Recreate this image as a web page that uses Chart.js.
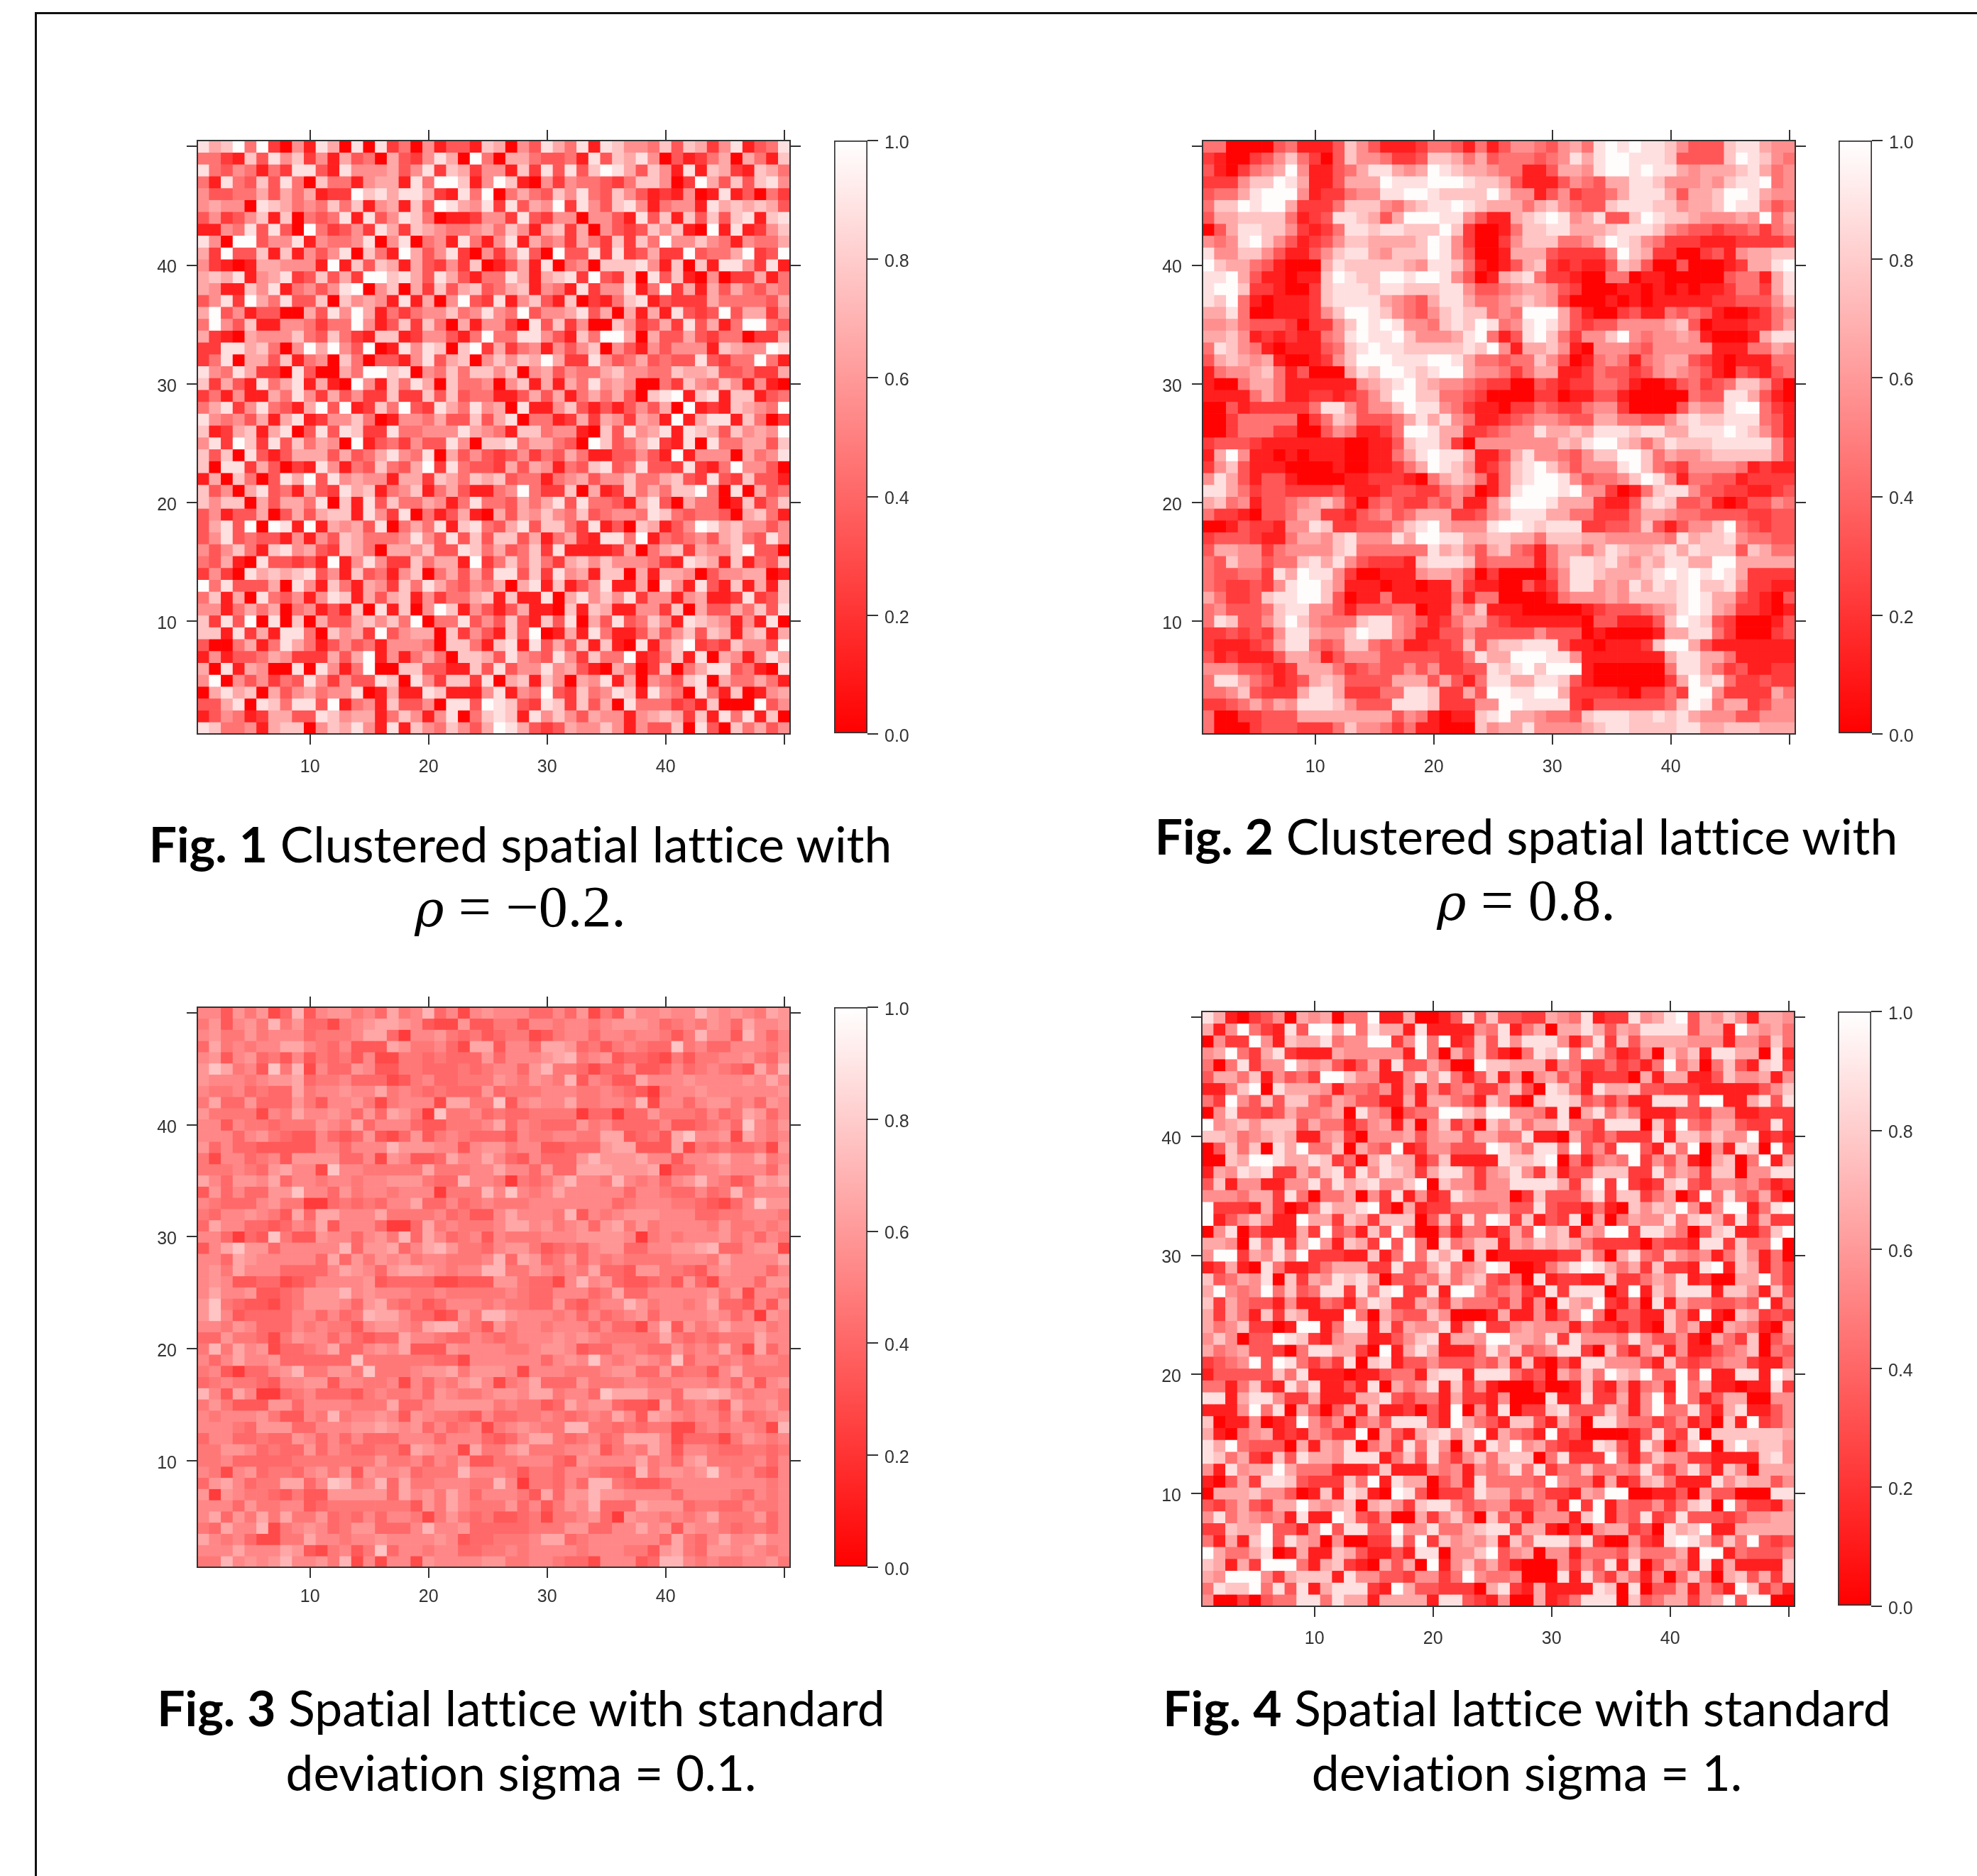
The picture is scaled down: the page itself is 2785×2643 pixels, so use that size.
<!DOCTYPE html>
<html>
<head>
<meta charset="utf-8">
<title>Spatial lattices</title>
<script src="https://cdn.jsdelivr.net/npm/chart.js@4"></script>
<style>
body { margin: 0; background: #fff; width: 2785px; height: 2643px; overflow: hidden; position: relative; }
canvas { position: absolute; }
#frame { position: absolute; left: 49px; top: 17px; right: -10px; bottom: -10px; border-left: 3px solid #111; border-top: 3px solid #111; }
.cap { position: absolute; width: 1300px; text-align: center; color: #000; font-family: Lato, "Noto Sans", sans-serif; font-size: 69.5px; line-height: 80px; white-space: nowrap; font-variant-ligatures: none; }
.math { font-family: "Liberation Serif", "DejaVu Serif", serif; font-size: 82px; }
.math i { font-family: "DejaVu Serif", serif; font-size: 70px; }
</style>
</head>
<body>
<div id="frame"></div>
<canvas id="fig1"></canvas><canvas id="bar1"></canvas>
<canvas id="fig2"></canvas><canvas id="bar2"></canvas>
<canvas id="fig3"></canvas><canvas id="bar3"></canvas>
<canvas id="fig4"></canvas><canvas id="bar4"></canvas>

<div class="cap" style="left:83px;top:1148px"><b>Fig. 1</b> Clustered spatial lattice with</div>
<div class="cap math" style="left:83px;top:1238px"><i>ρ</i> = −0.2.</div>
<div class="cap" style="left:1500px;top:1137px"><b>Fig. 2</b> Clustered spatial lattice with</div>
<div class="cap math" style="left:1500px;top:1229px"><i>ρ</i> = 0.8.</div>
<div class="cap" style="left:84px;top:2365px"><b>Fig. 3</b> Spatial lattice with standard</div>
<div class="cap" style="left:84px;top:2456px">deviation sigma = 0.1.</div>
<div class="cap" style="left:1501px;top:2365px"><b>Fig. 4</b> Spatial lattice with standard</div>
<div class="cap" style="left:1501px;top:2456px">deviation sigma = 1.</div>

<script>
// each string is one row of the lattice, top row (y=50) first
// one digit per cell, looked up in the shade arrays below
const fig1Rows = [
"86794920518608082405133176053864818755473762581348",
"44217385725163406325860940664334183768503124606417",
"84354142883185556358276255172838379863751817621764",
"41843738407441566184997159710525443247750296373785",
"53344636461229786886218490464375843753121501813042",
"56550876454747156173986582836592853785145518676763",
"35235717043481835874011255283255055318371737378178",
"11548383094235286276544564751672605323757109181257",
"85099355815445805804518415816452642727495575415446",
"62933717153580741963582052583093382823622934469239",
"52101665551917376163252701361804507778517071885281",
"67681568237362997863863144861678293270837105022614",
"65117581453589057062736734671541825581492616364354",
"35829648337075651816059328157317021478132226444436",
"69351330063859614245574585493556836061618323936625",
"49537115542449513727406155208372500752362836149943",
"62106555743742177125531494488531749960633632440226",
"22886740596953901858707926245153570531535551765598",
"24806637145074033158367057576962285346343383244941",
"85486220830064997805474775705635446755447667334226",
"72631846816109517486074450571616485650042754751510",
"24151164852635227227373441136361464630789178177134",
"46825843169391274932864856081157313135360912176549",
"85453616812557401554633736804412626526519168817402",
"71267168038387228445558654177455107385681876375659",
"58297283746509134253385077846643097346821808446637",
"73708313666363468548063532352436411335319155506458",
"70882630218514374369284332636514378348332821495530",
"16074038693856551662764767344145635574467328327331",
"73506834163286714571463114594227061274647794080634",
"75770636648071837446514844364683844316830644017247",
"35133603636771852804136106365754734554874344306741",
"36839098191656380464817843683774281307613598675535",
"35834331515376444585383737736146218849143453674385",
"53574178563276406657338746347281111260467265579330",
"43610833231915852274661924747426757555421876171437",
"25208676783517341570463638837285617706166503556601",
"94833360851741652748643546068171358116085183171617",
"47160843515871636715244671711806857582551561128237",
"55146460451317081705971531361107176115527063364738",
"72839080706336757490448353731738063834751876515180",
"77182618840756293566072531739016184113635737616716",
"30046148641353415554077417818363717108157923275539",
"15133465222636915146407763854385274491247180651586",
"60816500808514900773311738355856310640270468834108",
"59053524385253387085277280671750658160543780644641",
"06867063564558016118711158154932745871854084170156",
"33680874883914517335088398732872736084442317000935",
"13541266338756614751580478718575365515676271848170",
"87445167705768518175475369863236557515337083074635"
]

const fig2Rows = [
"44000034111375311124431413554356489898875333788655",
"21002357420375542237764634443458689988873333798754",
"31024569511346886569876654411366589989886566678645",
"22257798611366698889998776311135436688755565788945",
"34468999512245588998777797551352334688863667998655",
"47798996222477754678898766646754337888775667988534",
"36677774123887636999885311678985683379877655565946",
"03688775212488788777972001477886667888754332334245",
"54589753123577666679852002577744579875422211122223",
"85577531135788657779853001666322225976220023156677",
"97664310006877777658874101367212113763003000126689",
"88963110117987799899853016784221004401100000344168",
"89972210027888788777885334566532000110101011244268",
"87941011127888865436886445676520001010111112233357",
"66840011125799875435787745499963100231143431001245",
"55643332022579898554787984589863233555567301112246",
"66751212114589889755568941389742557954556510001688",
"48754101113478988777778795166751055543555551114465",
"36765610012579998889986443447530145414566321011144",
"14556741300068799878996554246611243323565431032134",
"10046641111115678976554322003212244310013423477520",
"11114641122123579977443200002201133100000433886310",
"00312222248853557988542110224322455200003655899421",
"00244444024763334686854112345543366443357877888431",
"00244422003541124998662234558667688878866888987531",
"23332111111100113788620555555576899764687778888852",
"16951101011100114689886113685543577997465567777752",
"25731110000100112469875124789753555897432555541211",
"58631331000011222104676414789985344579851443312222",
"88642332222311123322454014899989552014788533221123",
"67451334567520343224351157999866621137873341013354",
"42210334662213453466622356888664422246654433332233",
"00132215587223335789655589987888223347313557943233",
"23332114665785558699886677664777665555548677854433",
"36655245555784444448675367431466468766786877737644",
"43755344786853222178887344441468878657688669966666",
"43344286988520011156653020000358876667898989862222",
"43223258997511101101152110031258856586878977852211",
"64223788997301141111141440000145556577778986632103",
"45333478855313334401154711100000123334568986522101",
"48733579754447885431246632111111033111379873200013",
"22323258865579885411335333335333010000166884200023",
"21112368843477434112237367788831101112799631111111",
"31211136651355533333224866999885111111168866411111",
"55533212666423433535223387897999100000048864231122",
"48864312367633336663631488668873100000026978422322",
"44573222688622244887226399889962222102242995222264",
"22346465888753338887222559988882133333347984662355",
"40022333666666663541011789665443788877878655533555",
"40002333222475542411000756685555678877778866777666"
]

const fig3Rows = [
"55264613825664537458351565553353614275565586565476",
"46256484633145677652116224425545545666534546537556",
"56446455534445773055643423441245535545542485528535",
"37454557754352227644531772553776342454339453355545",
"56256342524342511443433363555678456233214244556436",
"69745294815336522443334345536844313352235345432748",
"65554566734453331245334446546548254227555655556575",
"54453433745565574543433363444555445432045565555556",
"47336333642556414555177449256557445548155356645365",
"64444154755653637640944534334444033033644435347635",
"55254434446547355532244457354333645333352234539546",
"55535643225323621362454333254455447723427955617545",
"63533222225535558666552566455223336772227143433416",
"41553452666633516522375575325333686667552556755745",
"44454367551955444447444557553633777666703355655536",
"75366573554554556664338554043468554854535685423767",
"26353366955364554555044485954575555535543353484555",
"54333564400343435573353454445555555345554432135966",
"43556542737755574444534225755548254566655533445554",
"37553323547255530037454445775645636746455554644545",
"55303294226553564837534525444555666650454555645354",
"25796635555583667357864435664234356633556678335661",
"55376555553736465645544458376346354544445554755557",
"56475553333576536776545588446545473326644325655535",
"56522331235555623333112226643315856322342631555366",
"57556223466685655544544444543355534733555556461554",
"69432213466653674342355545443363245586455457332526",
"69523333553534877533126488655545353456355556535065",
"55465333545442566547885426455455535331582645755645",
"33644314655353233755433543455565654444474343444755",
"48475613345733565722265555445665233554336454741735",
"53575563333339444444331555555356595456549355454554",
"45203356844664944456674666515554445663363442574444",
"34544325566255445153546751457333644455445554536256",
"85275003453332454453654456657745539777553778754554",
"46422266355554447335666664544237566322173454275564",
"54555642254845565265443253344543454752765455363456",
"55543666335556676563534514565448844343441145455418",
"35533433653535333555355532357743453477751333146545",
"44665343363543344276551744674445562454752554334434",
"44533333444444464453546224455532655557453674444535",
"54156344356462655634448555424435543328466569545325",
"36753447735984583744555448504435388432235555555545",
"60654432422666663756475355542736686655553555543545",
"55536445523444444426475444635246583337666344335445",
"57364747446343535541464342234144563065545457444635",
"43755814565346633358556333334446633557562655434435",
"75453114475545565555652334445773455555537435755755",
"55575557621452493554553344545555455544267436656545",
"44856568556481515516555566445543315552388545445564"
]

const fig4Rows = [
"86102350656044911600138373322654812285689365751665",
"61594218399694866181111548146066863658888366196564",
"05229517668455992594912738588851482736666555155374",
"56942682111655555194063731048794963125075718866081",
"40482559656313618336400977666154224231494604731782",
"36647153429975511585841371505635122206166113755615",
"11479086665144351515245225730874186673322211111357",
"42953737743653311616643175107887342411888399116838",
"05833236445608540344997699554180684641113325511222",
"95675777364413561605724075746684428880729436632282",
"77645676115620555635663664481106324222817757559121",
"03747086944706439125533398648849352993184905187092",
"00769986687240686613711118778904145492536106704916",
"16587822647828587626885256852713377722846527705588",
"37155115584867855790755255888862792921278325545312",
"55546628404460528151286555027333682772460294843620",
"92221620148668920612244445338322141075769515991489",
"91357511966276277703728498271328060465584786282622",
"05803111629341739400414412639671659928864037811379",
"66508482695176293940845771657676422220322188274490",
"59926585922211714948680701111122740684375451475140",
"12610841124666228336845698001468986462722189176142",
"73465807265878603354746732408122117224658120066942",
"69545947348828489228199534521828880291758881775173",
"72643315114315872265264442515086592140816443343915",
"62641727611194064337500016115136940331174191076232",
"64572201991488172655815922565551422131074610654106",
"57503398721566113578166599665828555485335106427035",
"64563320488662091686111485734588207315715113457043",
"23459398424280781335333436171031885553173234552114",
"13333374811101134417881888423064749769449391188197",
"44147218581131806458172510002001721514519461101182",
"88168852261116683244162215000811822615929413660055",
"11159480630361711203190518022783337515944831681135",
"70115012953504538883196431773164088544235130719235",
"61045612154229063167857916431923000013832807777776",
"86943330616580462848507186956321187318503790796775",
"87462173866588814738425747770482229414755221111785",
"51856696444111271115451545848244744548425841750666",
"10362887322274918660351844443954416126741118576635",
"06667553017187109830223866464221659900113063300088",
"32463266965670675278853455224519291433524780942215",
"58465451811973250062574073515551791438238333235566",
"22766933159388339558446788266102056623086791166666",
"41617938650500228392756571748885820052189863749323",
"96446801611763113188055793560551444364446199143335",
"76162999416721063609157463100052538180365181611117",
"65999526777185533255249544500081842641504740673627",
"48779483816888219633222068216111187080336153197241",
"50020344884866166661883215006124888073466256939900"
]

// digit -> lattice value
const shadeValues = [0.01, 0.12, 0.23, 0.34, 0.45, 0.56, 0.66, 0.77, 0.88, 0.99]
const fig3ShadeValues = [0.23, 0.29, 0.35, 0.41, 0.47, 0.53, 0.59, 0.65, 0.71, 0.77]

const latticeTicks = [10, 20, 30, 40, 50]
const colorTicks = [0, 0.2, 0.4, 0.6, 0.8, 1]

const tickColor = "#333"
const tickFont = { family: "'Liberation Sans', Arial, sans-serif", size: 25 }
const m = { left: 90, right: 40, top: 40, bottom: 80 }

// value 0 is red, value 1 is white
function shade(v) {
    const g = Math.round(255 * v)
    return "rgb(255," + g + "," + g + ")"
}

function setTicks(list) {
    return function (scale) {
        scale.ticks = list.map(function (v) { return { value: v } })
    }
}

function latticeAxis(position, showLabels, fitSize, labelPad) {
    const horizontal = position === "top" || position === "bottom"
    return {
        type: "linear",
        position: position,
        min: 0.5,
        max: 50.5,
        offset: false,
        afterBuildTicks: setTicks(latticeTicks),
        afterFit: function (scale) {
            if (horizontal) scale.height = fitSize
            else scale.width = fitSize
        },
        border: { color: tickColor, width: 2, z: 1 },
        grid: { offset: false, drawOnChartArea: false, color: tickColor, lineWidth: 2, tickLength: 15, z: 1 },
        ticks: {
            display: showLabels,
            autoSkip: false,
            maxRotation: 0,
            color: tickColor,
            font: tickFont,
            padding: labelPad,
            labelOffset: horizontal ? 0 : 4,
            callback: function (v) { return v === 50 ? "" : v }
        }
    }
}

function drawLattice(id, rows, values, left, top, right, bottom, bottomPad) {
    const canvas = document.querySelector("#" + id)
    canvas.width = right - left + m.left + m.right
    canvas.height = bottom - top + m.top + m.bottom
    canvas.style.left = (left - m.left) + "px"
    canvas.style.top = (top - m.top) + "px"

    const datasets = rows.map(function (row, i) {
        const cells = row.split("")
        return {
            data: cells.map(function (c, j) { return { x: j + 1, y: [49.5 - i, 50.5 - i] } }),
            backgroundColor: cells.map(function (c) { return shade(values[Number(c)]) }),
            grouped: false,
            barPercentage: 1,
            categoryPercentage: 1
        }
    })

    return new Chart(canvas, {
        type: "bar",
        data: { datasets: datasets },
        options: {
            responsive: false,
            animation: false,
            events: [],
            plugins: { legend: { display: false }, tooltip: { enabled: false } },
            scales: {
                x: latticeAxis("bottom", true, m.bottom, bottomPad),
                y: latticeAxis("left", true, m.left, 14),
                x2: latticeAxis("top", false, m.top, 0),
                y2: latticeAxis("right", false, m.right, 0)
            }
        }
    })
}

function drawColorBar(id, left, top, right, bottom) {
    const canvas = document.querySelector("#" + id)
    const pad = 30
    const axisWidth = 110
    canvas.width = right - left + axisWidth + pad
    canvas.height = bottom - top + 2 * pad
    canvas.style.left = (left - pad) + "px"
    canvas.style.top = (top - pad) + "px"

    return new Chart(canvas, {
        type: "bar",
        data: {
            labels: [""],
            datasets: [{
                data: [[0, 1]],
                barPercentage: 1,
                categoryPercentage: 1,
                borderWidth: 2,
                borderColor: tickColor,
                borderSkipped: false,
                backgroundColor: function (ctx) {
                    const area = ctx.chart.chartArea
                    if (!area) return "#f00"
                    const fill = ctx.chart.ctx.createLinearGradient(0, area.bottom, 0, area.top)
                    fill.addColorStop(0, shade(0))
                    fill.addColorStop(1, shade(1))
                    return fill
                }
            }]
        },
        options: {
            responsive: false,
            animation: false,
            events: [],
            layout: { padding: { left: pad, top: pad, bottom: pad } },
            plugins: { legend: { display: false }, tooltip: { enabled: false } },
            scales: {
                x: { display: false },
                y: {
                    position: "right",
                    min: 0,
                    max: 1,
                    afterBuildTicks: setTicks(colorTicks),
                    afterFit: function (scale) { scale.width = axisWidth },
                    border: { display: false },
                    grid: { drawOnChartArea: false, color: tickColor, lineWidth: 2, tickLength: 15 },
                    ticks: {
                        color: tickColor,
                        font: tickFont,
                        padding: 9,
                        labelOffset: 4,
                        callback: function (v) { return v.toFixed(1) }
                    }
                }
            }
        }
    })
}

drawLattice("fig1", fig1Rows, shadeValues, 278, 198, 1113, 1034, 17)
drawColorBar("bar1", 1175, 198, 1222, 1034)

drawLattice("fig2", fig2Rows, shadeValues, 1694, 198, 2529, 1034, 17)
drawColorBar("bar2", 2590, 198, 2637, 1034)

drawLattice("fig3", fig3Rows, fig3ShadeValues, 278, 1419, 1113, 2208, 12)
drawColorBar("bar3", 1175, 1419, 1222, 2208)

drawLattice("fig4", fig4Rows, shadeValues, 1693, 1425, 2528, 2263, 16)
drawColorBar("bar4", 2589, 1425, 2636, 2263)
</script>
</body>
</html>
